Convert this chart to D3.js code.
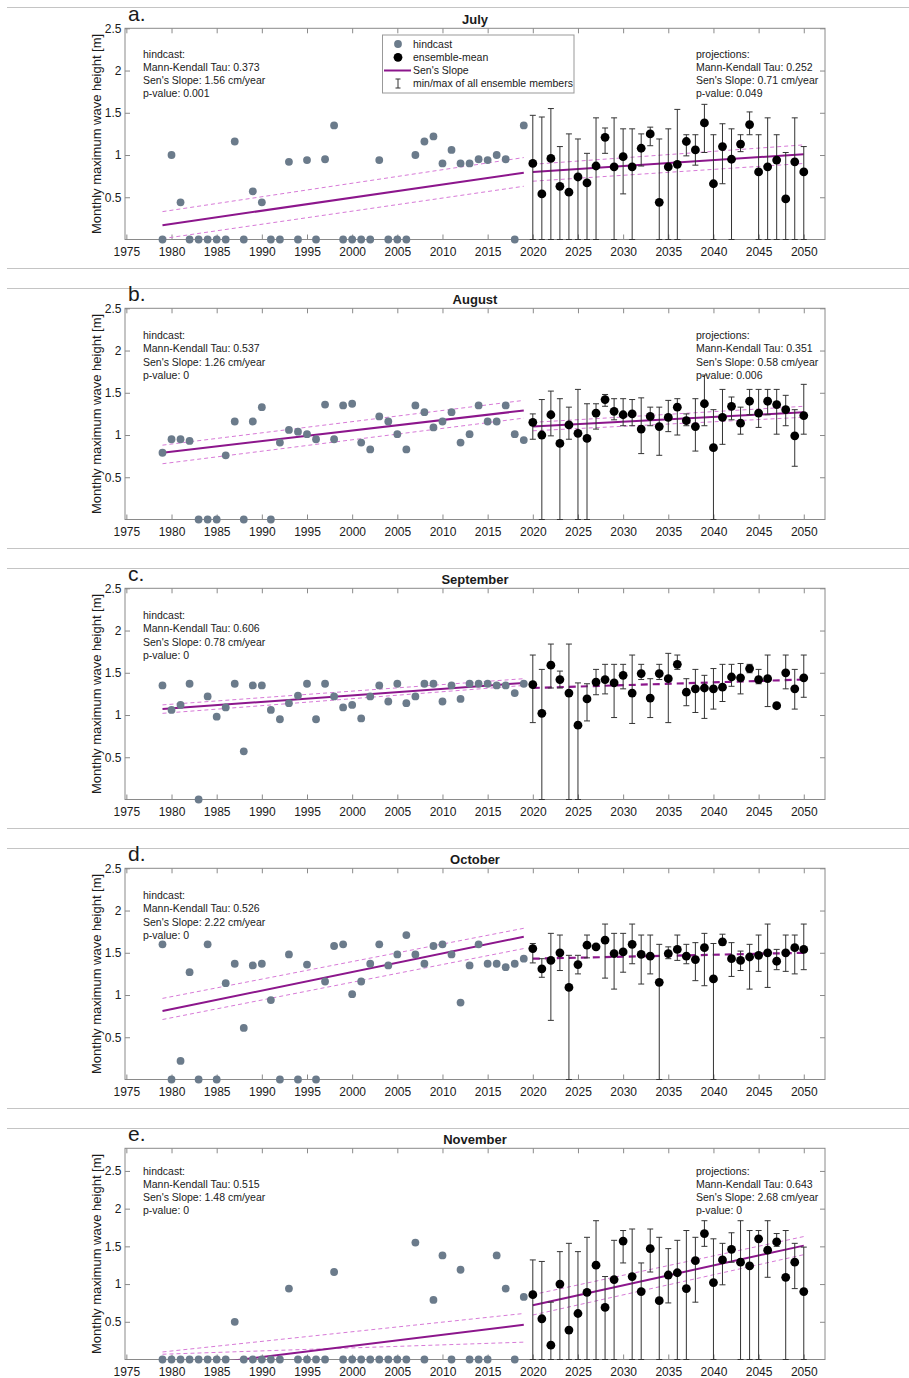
<!DOCTYPE html>
<html>
<head>
<meta charset="utf-8">
<script src="https://cdn.jsdelivr.net/npm/d3@7/dist/d3.min.js"></script>
<style>
  body { margin: 0; background: #fff; }
  svg text { font-family: Arial, "Liberation Sans", sans-serif; fill: #1a1a1a; }
</style>
</head>
<body>
<div id="chart"></div>
<script>
var width = 909,
    height = 1378;

// years
var hindYears = d3.range(1979, 2020);
var projYears = d3.range(2020, 2051);
var xTicks = d3.range(1975, 2051, 5);
var yTicks = [0.5, 1, 1.5, 2, 2.5];

var months = ['July', 'August', 'September', 'October', 'November'];
var letters = ['a.', 'b.', 'c.', 'd.', 'e.'];
var yMax = [2.5, 2.5, 2.5, 2.5, 2.8];

// July
var julHind = [0, 1.00, 0.44, 0, 0, 0, 0, 0, 1.16, 0, 0.57, 0.44, 0, 0, 0.92, 0, 0.94, 0, 0.95, 1.35, 0, 0, 0, 0, 0.94, 0, 0, 0, 1.00, 1.16, 1.22, 0.90, 1.06, 0.90, 0.90, 0.95, 0.94, 1.00, 0.95, 0, 1.35];
var julMean = [0.90, 0.54, 0.96, 0.63, 0.56, 0.74, 0.67, 0.87, 1.21, 0.86, 0.98, 0.86, 1.08, 1.25, 0.44, 0.86, 0.89, 1.16, 1.06, 1.38, 0.66, 1.10, 0.95, 1.13, 1.36, 0.80, 0.86, 0.94, 0.48, 0.92, 0.80];
var julMax = [1.47, 1.45, 1.55, 1.10, 1.25, 1.19, 1.02, 1.44, 1.32, 1.44, 1.31, 1.31, 1.25, 1.33, 1.19, 1.31, 1.54, 1.24, 1.24, 1.60, 1.24, 1.37, 1.31, 1.24, 1.51, 1.24, 1.44, 1.24, 1.03, 1.44, 1.10];
var julMin = [0, 0, 0, 0, 0, 0, 0, 0, 1.02, 0, 0.54, 0, 0.87, 1.11, 0, 0, 0, 0.99, 0.88, 1.03, 0, 0.66, 0, 1.04, 1.24, 0, 0, 0, 0, 0, 0];
var julHindTrend = [0.17, 0.79], julHindUp = [0.33, 0.97], julHindLo = [0.01, 0.63];
var julProjTrend = [0.80, 1.01], julProjUp = [0.89, 1.12], julProjLo = [0.69, 0.90];

// August
var augHind = [0.79, 0.95, 0.95, 0.93, 0, 0, 0, 0.76, 1.16, 0, 1.16, 1.33, 0, 0.91, 1.06, 1.04, 1.01, 0.95, 1.36, 0.95, 1.35, 1.37, 0.91, 0.83, 1.22, 1.16, 1.01, 0.83, 1.35, 1.27, 1.09, 1.16, 1.27, 0.91, 1.01, 1.35, 1.16, 1.16, 1.35, 1.01, 0.94];
var augMean = [1.15, 1.00, 1.24, 0.90, 1.12, 1.02, 0.96, 1.26, 1.42, 1.28, 1.24, 1.25, 1.07, 1.22, 1.10, 1.21, 1.33, 1.17, 1.10, 1.37, 0.85, 1.21, 1.34, 1.14, 1.40, 1.26, 1.40, 1.36, 1.30, 0.99, 1.23];
var augMax = [1.25, 1.42, 1.52, 1.43, 1.33, 1.54, 1.37, 1.37, 1.48, 1.43, 1.43, 1.42, 1.44, 1.33, 1.33, 1.41, 1.43, 1.25, 1.43, 1.71, 1.30, 1.54, 1.45, 1.33, 1.54, 1.54, 1.54, 1.54, 1.47, 1.30, 1.60];
var augMin = [0.95, 0, 0.99, 0, 0.95, 0, 0, 1.07, 1.34, 1.18, 1.11, 1.11, 0.78, 1.11, 0.76, 1.04, 1.00, 1.11, 0.81, 1.11, 0, 0.89, 1.18, 1.01, 1.24, 1.09, 1.24, 1.01, 1.11, 0.63, 1.01];
var augHindTrend = [0.79, 1.29], augHindUp = [0.88, 1.41], augHindLo = [0.66, 1.20];
var augProjTrend = [1.10, 1.27], augProjUp = [1.15, 1.34], augProjLo = [1.05, 1.21];

// September
var sepHind = [1.35, 1.06, 1.12, 1.37, 0, 1.22, 0.98, 1.09, 1.37, 0.57, 1.35, 1.35, 1.06, 0.95, 1.14, 1.23, 1.37, 0.95, 1.37, 1.22, 1.09, 1.12, 0.96, 1.22, 1.35, 1.16, 1.37, 1.14, 1.22, 1.37, 1.37, 1.16, 1.35, 1.19, 1.37, 1.37, 1.37, 1.35, 1.35, 1.26, 1.37];
var sepMean = [1.36, 1.02, 1.59, 1.42, 1.26, 0.88, 1.19, 1.39, 1.42, 1.38, 1.47, 1.26, 1.49, 1.20, 1.49, 1.43, 1.60, 1.27, 1.31, 1.32, 1.31, 1.33, 1.45, 1.44, 1.55, 1.42, 1.43, 1.11, 1.50, 1.31, 1.44];
var sepMax = [1.71, 1.54, 1.84, 1.52, 1.84, 1.38, 1.37, 1.54, 1.60, 1.60, 1.60, 1.71, 1.60, 1.43, 1.60, 1.73, 1.71, 1.43, 1.54, 1.47, 1.55, 1.60, 1.60, 1.61, 1.60, 1.54, 1.71, 1.12, 1.71, 1.54, 1.71];
var sepMin = [0.91, 0, 1.32, 1.32, 0, 0, 0.93, 1.24, 1.25, 0.97, 1.31, 0.90, 1.42, 0.97, 1.42, 0.91, 1.54, 1.11, 1.03, 0.96, 1.07, 1.16, 1.34, 1.25, 1.50, 1.37, 1.10, 1.10, 1.31, 1.07, 1.21];
var sepHindTrend = [1.07, 1.38], sepHindUp = [1.12, 1.43], sepHindLo = [1.02, 1.35];
var sepProjTrend = [1.32, 1.42];

// October
var octHind = [1.60, 0, 0.22, 1.27, 0, 1.60, 0, 1.14, 1.37, 0.61, 1.35, 1.37, 0.94, 0, 1.48, 0, 1.36, 0, 1.16, 1.58, 1.60, 1.01, 1.16, 1.37, 1.60, 1.35, 1.48, 1.71, 1.48, 1.37, 1.58, 1.60, 1.48, 0.91, 1.35, 1.60, 1.37, 1.37, 1.33, 1.37, 1.43];
var octMean = [1.55, 1.31, 1.41, 1.50, 1.09, 1.36, 1.59, 1.57, 1.65, 1.49, 1.51, 1.60, 1.48, 1.46, 1.15, 1.49, 1.54, 1.46, 1.42, 1.56, 1.19, 1.63, 1.43, 1.41, 1.45, 1.47, 1.50, 1.40, 1.50, 1.56, 1.54];
var octMax = [1.61, 1.43, 1.73, 1.71, 1.47, 1.47, 1.71, 1.59, 1.84, 1.73, 1.73, 1.84, 1.71, 1.71, 1.60, 1.57, 1.71, 1.60, 1.62, 1.73, 1.61, 1.72, 1.62, 1.52, 1.60, 1.71, 1.84, 1.54, 1.71, 1.71, 1.84];
var octMin = [1.38, 1.21, 0.70, 1.29, 0, 1.25, 1.44, 1.55, 1.20, 1.07, 1.27, 1.37, 1.13, 1.25, 0, 1.43, 1.41, 1.37, 1.17, 1.11, 0, 1.59, 1.22, 1.29, 1.07, 1.28, 1.09, 1.30, 1.28, 1.25, 1.30];
var octHindTrend = [0.81, 1.69], octHindUp = [0.96, 1.79], octHindLo = [0.71, 1.55];
var octProjTrend = [1.43, 1.50];

// November
var novHind = [0, 0, 0, 0, 0, 0, 0, 0, 0.50, 0, 0, 0, 0, 0, 0.94, 0, 0, 0, 0, 1.16, 0, 0, 0, 0, 0, 0, 0, 0, 1.55, 0, 0.79, 1.38, 0, 1.19, 0, 0, 0, 1.38, 0.94, 0, 0.83];
var novMean = [0.86, 0.54, 0.19, 1.00, 0.39, 0.61, 0.89, 1.25, 0.69, 1.06, 1.57, 1.10, 0.90, 1.47, 0.78, 1.12, 1.15, 0.94, 1.31, 1.67, 1.02, 1.32, 1.46, 1.29, 1.24, 1.60, 1.45, 1.56, 1.09, 1.29, 0.90];
var novMax = [1.32, 1.30, 0.76, 1.43, 1.54, 1.43, 1.62, 1.84, 1.10, 1.58, 1.71, 1.73, 1.28, 1.73, 1.62, 1.47, 1.58, 1.71, 1.62, 1.84, 1.60, 1.54, 1.68, 1.84, 1.71, 1.71, 1.84, 1.67, 1.71, 1.54, 1.49];
var novMin = [0, 0, 0, 0, 0, 0, 0, 0, 0, 0, 1.28, 0, 0, 1.16, 0, 0.75, 0, 0, 0.76, 1.50, 0, 0.99, 1.29, 0, 0, 0, 1.09, 1.50, 0, 0.94, 0];
var novHindTrend = [-0.13, 0.46], novHindUp = [0.10, 0.61], novHindLo = [0.07, 0.23];
var novProjTrend = [0.72, 1.51], novProjUp = [0.86, 1.63], novProjLo = [0.59, 1.39];

// Mann-Kendall stats [tau, slope, p]
var hindStats = [['0.373', '1.56', '0.001'], ['0.537', '1.26', '0'], ['0.606', '0.78', '0'], ['0.526', '2.22', '0'], ['0.515', '1.48', '0']];
var projStats = [['0.252', '0.71', '0.049'], ['0.351', '0.58', '0.006'], null, null, ['0.643', '2.68', '0']];

var panels = [
  {hind: julHind, mean: julMean, max: julMax, min: julMin, hT: julHindTrend, hU: julHindUp, hL: julHindLo, pT: julProjTrend, pU: julProjUp, pL: julProjLo},
  {hind: augHind, mean: augMean, max: augMax, min: augMin, hT: augHindTrend, hU: augHindUp, hL: augHindLo, pT: augProjTrend, pU: augProjUp, pL: augProjLo},
  {hind: sepHind, mean: sepMean, max: sepMax, min: sepMin, hT: sepHindTrend, hU: sepHindUp, hL: sepHindLo, pT: sepProjTrend},
  {hind: octHind, mean: octMean, max: octMax, min: octMin, hT: octHindTrend, hU: octHindUp, hL: octHindLo, pT: octProjTrend},
  {hind: novHind, mean: novMean, max: novMax, min: novMin, hT: novHindTrend, hU: novHindUp, hL: novHindLo, pT: novProjTrend, pU: novProjUp, pL: novProjLo}
];

var purple = '#8c168c',
    pink = '#d77ad7',
    grey = '#6b7b8b',
    boxColor = '#8a8a8a';

var step = 280, axTop = 28.3, axH = 211.2, left = 125, right = 825;
var statsOffset = [29.2, 30.7, 30.7, 30.7, 26.2];

var svg = d3.select('#chart').append('svg')
    .attr('width', width)
    .attr('height', height)
    .style('background', '#fff');

var x = d3.scaleLinear().domain([1974.85, 2052.35]).range([left, right]);

// separators between the sub figures
var sepY = [7.5];
for (var k = 0; k < 4; k++) { sepY.push(268.5 + step * k, 288.5 + step * k); }
svg.selectAll('line.sep').data(sepY).enter().append('line')
  .attr('class', 'sep')
  .attr('x1', 7).attr('x2', width)
  .attr('y1', function(d) { return d; }).attr('y2', function(d) { return d; })
  .attr('stroke', '#c4c4c4').attr('stroke-width', 1.2);

panels.forEach(function(p, i) {
  var off = step * i;
  var top = axTop + off, bottom = top + axH;
  var y = d3.scaleLinear().domain([0, yMax[i]]).range([bottom, top]);
  var g = svg.append('g');

  g.append('clipPath').attr('id', 'clip' + i)
    .append('rect').attr('x', left).attr('y', top).attr('width', right - left).attr('height', axH);

  // axes (inside ticks, matlab style)
  g.append('g').attr('transform', 'translate(0,' + bottom + ')')
    .call(d3.axisBottom(x).tickValues(xTicks).tickSize(-5).tickPadding(8).tickFormat(d3.format('d')))
    .call(styleAxis);
  g.append('g').attr('transform', 'translate(0,' + top + ')')
    .call(d3.axisTop(x).tickValues(xTicks).tickSize(-5).tickFormat(''))
    .call(styleAxis);
  g.append('g').attr('transform', 'translate(' + left + ',0)')
    .call(d3.axisLeft(y).tickValues(yTicks).tickSize(-5).tickPadding(3.5).tickFormat(function(d) { return String(d); }))
    .call(styleAxis);
  g.append('g').attr('transform', 'translate(' + right + ',0)')
    .call(d3.axisRight(y).tickValues(yTicks).tickSize(-5).tickFormat(''))
    .call(styleAxis);
  g.append('rect')
    .attr('x', left).attr('y', top).attr('width', right - left).attr('height', axH)
    .attr('fill', 'none').attr('stroke', boxColor).attr('stroke-width', 1);

  // labels
  g.append('text')
    .attr('transform', 'translate(100.5,' + (top + axH / 2) + ')rotate(-90)')
    .attr('text-anchor', 'middle')
    .style('font-size', '13px')
    .text('Monthly maximum wave height [m]');
  g.append('text')
    .attr('x', (left + right) / 2).attr('y', 23.5 + off)
    .attr('text-anchor', 'middle')
    .style('font-size', '13px').style('font-weight', 'bold')
    .text(months[i]);
  g.append('text')
    .attr('x', 128).attr('y', 20.5 + off)
    .style('font-size', '21px')
    .text(letters[i]);

  // stats text
  statsBlock(g, 143, top + statsOffset[i], 'hindcast:', hindStats[i]);
  if (projStats[i]) statsBlock(g, 696, top + statsOffset[i], 'projections:', projStats[i]);

  var lines = g.append('g').attr('clip-path', 'url(#clip' + i + ')');
  function trend(vals, x0, x1, color, w, dash) {
    lines.append('line')
      .attr('x1', x(x0)).attr('x2', x(x1))
      .attr('y1', y(vals[0])).attr('y2', y(vals[1]))
      .attr('stroke', color).attr('stroke-width', w)
      .attr('stroke-dasharray', dash);
  }
  trend(p.hU, 1979, 2019, pink, 1, '4,3');
  trend(p.hL, 1979, 2019, pink, 1, '4,3');
  trend(p.hT, 1979, 2019, purple, 2, null);
  if (p.pU) {
    trend(p.pU, 2020, 2050, pink, 1, '4,3');
    trend(p.pL, 2020, 2050, pink, 1, '4,3');
    trend(p.pT, 2020, 2050, purple, 2, null);
  } else {
    trend(p.pT, 2020, 2050, purple, 2.2, '7,5');
  }

  // error bars
  var eb = g.append('g').attr('stroke', '#333').attr('stroke-width', 1);
  eb.selectAll('line.v').data(projYears).enter().append('line')
    .attr('x1', function(d) { return x(d); }).attr('x2', function(d) { return x(d); })
    .attr('y1', function(d, j) { return y(p.min[j]); })
    .attr('y2', function(d, j) { return y(p.max[j]); });
  eb.selectAll('line.capT').data(projYears).enter().append('line')
    .attr('x1', function(d) { return x(d) - 3; }).attr('x2', function(d) { return x(d) + 3; })
    .attr('y1', function(d, j) { return y(p.max[j]); })
    .attr('y2', function(d, j) { return y(p.max[j]); });
  eb.selectAll('line.capB').data(projYears).enter().append('line')
    .attr('x1', function(d) { return x(d) - 3; }).attr('x2', function(d) { return x(d) + 3; })
    .attr('y1', function(d, j) { return y(p.min[j]); })
    .attr('y2', function(d, j) { return y(p.min[j]); });

  // points
  g.selectAll('circle.hind').data(hindYears).enter().append('circle')
    .attr('cx', function(d) { return x(d); })
    .attr('cy', function(d, j) { return y(p.hind[j]); })
    .attr('r', 3.9)
    .attr('fill', grey);
  g.selectAll('circle.mean').data(projYears).enter().append('circle')
    .attr('cx', function(d) { return x(d); })
    .attr('cy', function(d, j) { return y(p.mean[j]); })
    .attr('r', 4.4)
    .attr('fill', '#000');

  if (i === 0) drawLegend(g);
});

function styleAxis(sel) {
  sel.select('.domain').remove();
  sel.selectAll('.tick line').attr('stroke', boxColor);
  sel.selectAll('.tick text').style('font-size', '12px').attr('fill', '#1a1a1a');
}

function statsBlock(g, x0, y0, head, s) {
  var rows = [head, 'Mann-Kendall Tau: ' + s[0], "Sen's Slope: " + s[1] + ' cm/year', 'p-value: ' + s[2]];
  g.selectAll(null).data(rows).enter().append('text')
    .attr('x', x0)
    .attr('y', function(d, k) { return y0 + k * 13.3; })
    .style('font-size', '10.5px')
    .text(function(d) { return d; });
}

function drawLegend(g) {
  var lx = 382.5, ly = 35;
  var items = ['hindcast', 'ensemble-mean', "Sen's Slope", 'min/max of all ensemble members'];
  var lg = g.append('g');
  lg.append('rect')
    .attr('x', lx).attr('y', ly).attr('width', 191.5).attr('height', 58)
    .attr('fill', '#fff').attr('stroke', '#999');
  lg.append('circle').attr('cx', 398).attr('cy', 44).attr('r', 3.9).attr('fill', grey);
  lg.append('circle').attr('cx', 398).attr('cy', 57.3).attr('r', 4.4).attr('fill', '#000');
  lg.append('line').attr('x1', 384).attr('x2', 411).attr('y1', 70.5).attr('y2', 70.5)
    .attr('stroke', purple).attr('stroke-width', 2);
  var ib = lg.append('g').attr('stroke', '#333');
  ib.append('line').attr('x1', 398).attr('x2', 398).attr('y1', 79).attr('y2', 88);
  ib.append('line').attr('x1', 395.5).attr('x2', 400.5).attr('y1', 79).attr('y2', 79);
  ib.append('line').attr('x1', 395.5).attr('x2', 400.5).attr('y1', 88).attr('y2', 88);
  lg.selectAll('text').data(items).enter().append('text')
    .attr('x', 413)
    .attr('y', function(d, k) { return 44 + k * 13.2; })
    .attr('dy', '0.35em')
    .style('font-size', '10.5px')
    .text(function(d) { return d; });
}
</script>
</body>
</html>
